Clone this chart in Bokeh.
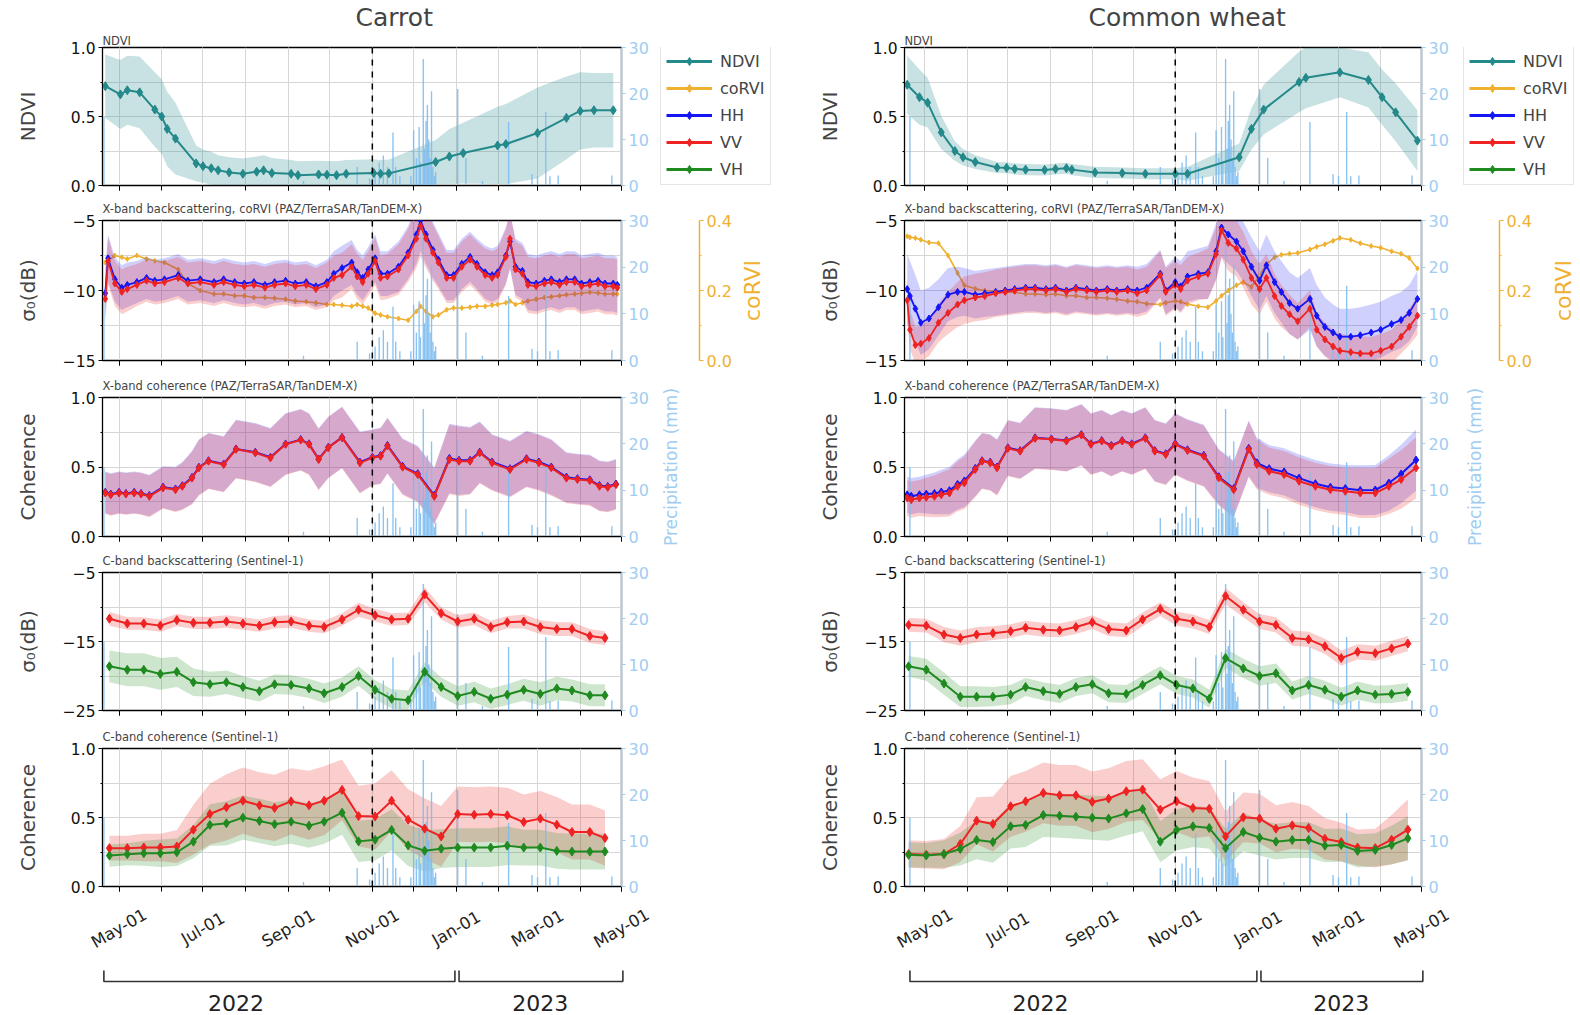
import math
import numpy as np
from bokeh.plotting import figure
from bokeh.models import (ColumnDataSource, Range1d, LinearAxis, FixedTicker, Span,
                          Legend, LegendItem, Title, CustomJSTickFormatter)
from bokeh.layouts import column, row
from bokeh.embed import file_html
from bokeh.resources import INLINE
from bokeh.core.properties import value

# ======================= DATA (day numbers = days since 2022-04-17) =======================
T0 = "2022-04-17"

precip_day = [3, 148, 187, 196, 200, 203, 206, 209, 213, 215, 218, 226, 228, 230, 232, 233, 235, 236,
              237, 238, 239, 240, 241, 242, 243, 244, 260, 266, 278, 297, 314, 318, 324, 327, 333, 372]
precip_mm = [15, 1, 4, 1.5, 3, 5, 6.5, 4, 11.5, 4, 2, 2, 12, 6, 12.7, 5, 27.5, 8,
             14, 17.5, 10, 6, 20.5, 4, 2, 3, 21, 6, 1, 13.8, 2.5, 2, 16, 2, 2.2, 2.2]

# ---- Carrot ----
carrot_ndvi_day = [4, 15, 20, 29, 40, 45, 49, 55, 70, 75, 81, 86, 94, 104, 114, 119, 125, 139, 144, 159,
                   165, 172, 179, 199, 204, 210, 244, 254, 264, 289, 295, 318, 339, 349, 359, 373]
carrot_ndvi = [0.72, 0.66, 0.69, 0.675, 0.55, 0.50, 0.41, 0.34, 0.16, 0.14, 0.125, 0.11, 0.095, 0.085,
               0.10, 0.11, 0.09, 0.085, 0.075, 0.08, 0.078, 0.075, 0.085, 0.09, 0.085, 0.088, 0.17, 0.21,
               0.235, 0.29, 0.30, 0.38, 0.49, 0.54, 0.545, 0.545]
carrot_ndvi_sd = [0.23, 0.25, 0.25, 0.26, 0.27, 0.27, 0.27, 0.26, 0.13, 0.12, 0.12, 0.11, 0.11, 0.11,
                  0.11, 0.11, 0.11, 0.10, 0.10, 0.10, 0.10, 0.10, 0.10, 0.10, 0.10, 0.10, 0.16, 0.20,
                  0.22, 0.28, 0.29, 0.33, 0.30, 0.28, 0.27, 0.27]

carrot_x_day = [4, 6, 11, 16, 20, 27, 34, 40, 47, 57, 64, 73, 83, 90, 98, 105, 112, 120, 127, 135,
                142, 150, 157, 165, 170, 176, 183, 187, 191, 195, 200, 204, 209, 217, 224, 230, 233,
                237, 242, 246, 252, 257, 263, 269, 274, 280, 285, 289, 295, 298, 302, 307, 311, 317,
                323, 328, 334, 339, 345, 350, 356, 362, 367, 373, 376]
carrot_x_vv = [-10.6, -7.9, -9.5, -10.1, -9.9, -9.6, -9.3, -9.5, -9.4, -9.1, -9.5, -9.4, -9.6, -9.4,
               -9.6, -9.7, -9.6, -9.8, -9.6, -9.5, -9.7, -9.6, -9.9, -9.6, -9.1, -8.9, -8.3, -9.0,
               -9.4, -8.8, -7.9, -9.1, -9.0, -8.5, -7.5, -6.3, -5.4, -6.3, -7.3, -8.0, -9.1, -9.1,
               -8.3, -7.8, -8.3, -8.9, -9.1, -8.9, -7.6, -6.3, -8.5, -8.8, -9.6, -9.7, -9.5, -9.4,
               -9.6, -9.4, -9.4, -9.7, -9.6, -9.5, -9.7, -9.7, -9.8]
carrot_x_hh = [-10.2, -7.7, -9.2, -9.8, -9.6, -9.4, -9.1, -9.3, -9.2, -8.9, -9.3, -9.2, -9.4, -9.2,
               -9.4, -9.5, -9.4, -9.6, -9.4, -9.3, -9.5, -9.4, -9.7, -9.4, -8.8, -8.4, -8.0, -8.7,
               -9.1, -8.5, -7.7, -8.8, -8.8, -8.3, -7.3, -6.0, -5.0, -6.0, -7.1, -7.8, -8.9, -8.9,
               -8.1, -7.6, -8.1, -8.7, -8.9, -8.7, -7.5, -6.5, -8.3, -8.6, -9.4, -9.5, -9.3, -9.2,
               -9.4, -9.2, -9.2, -9.5, -9.4, -9.3, -9.5, -9.5, -9.6]
carrot_x_sd = [1.7, 1.7, 1.6, 1.6, 1.6, 1.5, 1.5, 1.5, 1.5, 1.5, 1.5, 1.5, 1.5, 1.5, 1.5, 1.5, 1.5,
               1.5, 1.5, 1.5, 1.5, 1.5, 1.5, 1.6, 1.6, 1.6, 1.6, 1.6, 1.6, 1.6, 1.7, 1.6, 1.6, 1.8,
               1.9, 2.1, 2.2, 2.1, 2.0, 1.9, 1.8, 1.8, 1.8, 1.8, 1.8, 1.9, 1.9, 1.9, 2.0, 2.0, 2.0,
               2.0, 2.0, 2.0, 2.0, 2.0, 2.0, 2.0, 2.0, 2.0, 2.0, 2.0, 2.0, 2.0, 2.0]
carrot_corvi = [0.28, 0.285, 0.30, 0.295, 0.29, 0.30, 0.29, 0.285, 0.28, 0.26, 0.22, 0.20, 0.19, 0.19,
                0.185, 0.185, 0.18, 0.18, 0.178, 0.175, 0.17, 0.168, 0.165, 0.16, 0.16, 0.158, 0.155,
                0.16, 0.155, 0.15, 0.135, 0.13, 0.125, 0.12, 0.115, 0.14, 0.155, 0.14, 0.125, 0.13,
                0.145, 0.15, 0.15, 0.152, 0.155, 0.155, 0.158, 0.16, 0.165, 0.17, 0.16, 0.165, 0.17,
                0.175, 0.18, 0.182, 0.185, 0.188, 0.19, 0.192, 0.195, 0.193, 0.19, 0.19, 0.19]

carrot_xc_day = [4, 8, 14, 19, 25, 30, 36, 46, 55, 60, 67, 72, 79, 90, 99, 113, 124, 135, 146, 152,
                 159, 166, 176, 189, 198, 204, 209, 220, 231, 243, 254, 261, 269, 276, 285, 298, 310,
                 319, 328, 339, 347, 356, 363, 369, 375]
carrot_xc_vv = [0.313, 0.30, 0.313, 0.306, 0.313, 0.306, 0.289, 0.35, 0.337, 0.361, 0.42, 0.494,
                0.542, 0.518, 0.627, 0.602, 0.566, 0.663, 0.694, 0.663, 0.554, 0.639, 0.711, 0.53,
                0.566, 0.578, 0.651, 0.499, 0.446, 0.289, 0.554, 0.542, 0.542, 0.602, 0.53, 0.482,
                0.554, 0.53, 0.494, 0.42, 0.41, 0.402, 0.361, 0.354, 0.373]
carrot_xc_hh = [0.318, 0.305, 0.318, 0.31, 0.318, 0.31, 0.295, 0.355, 0.342, 0.366, 0.425, 0.498,
                0.545, 0.522, 0.63, 0.606, 0.57, 0.666, 0.697, 0.667, 0.558, 0.642, 0.713, 0.535,
                0.57, 0.582, 0.655, 0.505, 0.452, 0.296, 0.562, 0.548, 0.548, 0.607, 0.536, 0.488,
                0.56, 0.536, 0.5, 0.427, 0.416, 0.408, 0.367, 0.36, 0.378]
carrot_xc_sd = [0.15, 0.15, 0.15, 0.15, 0.15, 0.15, 0.15, 0.15, 0.16, 0.17, 0.19, 0.2, 0.2, 0.2,
                0.21, 0.21, 0.21, 0.22, 0.22, 0.22, 0.22, 0.22, 0.22, 0.22, 0.2, 0.2, 0.2, 0.2, 0.2,
                0.2, 0.25, 0.25, 0.24, 0.22, 0.2, 0.2, 0.2, 0.2, 0.2, 0.18, 0.18, 0.18, 0.18, 0.18, 0.18]

carrot_c_day = [7, 20, 32, 44, 56, 68, 80, 92, 104, 116, 127, 139, 152, 163, 176, 188, 200, 212,
                224, 236, 248, 260, 272, 284, 296, 308, 320, 332, 343, 356, 367]
carrot_c_vv = [-11.7, -12.4, -12.4, -12.7, -11.9, -12.3, -12.3, -12.1, -12.4, -12.7, -12.2, -12.1,
               -12.7, -12.9, -11.8, -10.4, -11.2, -11.8, -11.7, -8.2, -10.9, -12.1, -11.7, -12.9,
               -12.2, -12.1, -12.9, -13.2, -13.2, -14.2, -14.5]
carrot_c_vh = [-18.6, -19.1, -19.1, -19.7, -19.4, -20.9, -21.2, -20.9, -21.6, -22.2, -21.2, -21.3,
               -21.8, -22.5, -21.6, -20.0, -22.0, -23.3, -23.5, -19.4, -21.6, -22.9, -22.3, -23.3,
               -22.7, -22.0, -22.6, -21.8, -22.1, -22.8, -22.8]
carrot_c_vv_sd = [1.0, 0.9, 0.9, 0.9, 0.9, 0.9, 0.9, 0.9, 0.9, 0.9, 0.9, 0.9, 0.9, 0.9, 0.9, 1.0,
                  0.9, 0.9, 0.9, 1.1, 0.9, 0.9, 0.9, 0.9, 0.9, 1.0, 1.0, 1.0, 1.0, 1.0, 1.0]
carrot_c_vh_sd = [2.3, 2.4, 2.4, 2.3, 2.2, 2.0, 1.8, 1.7, 1.6, 1.5, 1.4, 1.4, 1.4, 1.4, 1.4, 1.4,
                  1.4, 1.4, 1.4, 1.4, 1.4, 1.4, 1.5, 1.5, 1.5, 1.6, 1.7, 1.7, 1.6, 1.6, 1.6]
carrot_cc_vv = [0.278, 0.278, 0.283, 0.283, 0.29, 0.412, 0.525, 0.574, 0.622, 0.588, 0.569, 0.617,
                0.588, 0.622, 0.70, 0.51, 0.508, 0.622, 0.484, 0.419, 0.363, 0.525, 0.52, 0.525,
                0.516, 0.467, 0.492, 0.448, 0.395, 0.395, 0.351]
carrot_cc_vh = [0.224, 0.234, 0.241, 0.241, 0.248, 0.325, 0.446, 0.458, 0.499, 0.475, 0.451, 0.47,
                0.441, 0.47, 0.535, 0.327, 0.339, 0.41, 0.298, 0.259, 0.274, 0.282, 0.282, 0.282,
                0.296, 0.282, 0.282, 0.258, 0.253, 0.253, 0.253]
carrot_cc_vv_sd = [0.09, 0.09, 0.1, 0.1, 0.12, 0.18, 0.22, 0.24, 0.24, 0.24, 0.24, 0.24, 0.25, 0.25,
                   0.22, 0.22, 0.24, 0.22, 0.22, 0.22, 0.22, 0.2, 0.2, 0.2, 0.2, 0.2, 0.2, 0.2, 0.2,
                   0.2, 0.2]
carrot_cc_vh_sd = [0.08, 0.08, 0.09, 0.1, 0.1, 0.12, 0.15, 0.16, 0.16, 0.16, 0.16, 0.16, 0.16, 0.16,
                   0.16, 0.15, 0.15, 0.15, 0.15, 0.15, 0.14, 0.14, 0.14, 0.14, 0.14, 0.13, 0.13, 0.13,
                   0.13, 0.13, 0.13]

# ---- Common wheat ----
wheat_ndvi_day = [1, 10, 16, 26, 36, 42, 51, 67, 74, 80, 88, 102, 110, 118, 122, 139, 159, 176, 198,
                  207, 245, 254, 263, 289, 294, 319, 340, 350, 360, 376]
wheat_ndvi = [0.73, 0.64, 0.60, 0.385, 0.25, 0.205, 0.17, 0.13, 0.128, 0.12, 0.115, 0.113, 0.12,
              0.125, 0.115, 0.095, 0.09, 0.085, 0.085, 0.085, 0.205, 0.41, 0.55, 0.75, 0.78, 0.82,
              0.765, 0.64, 0.53, 0.325]
wheat_ndvi_sd = [0.21, 0.2, 0.18, 0.12, 0.07, 0.06, 0.05, 0.04, 0.04, 0.04, 0.04, 0.04, 0.04, 0.04,
                 0.04, 0.04, 0.04, 0.04, 0.04, 0.05, 0.1, 0.15, 0.18, 0.22, 0.22, 0.18, 0.2, 0.2,
                 0.21, 0.22]

wheat_x_day = [1, 3, 7, 11, 17, 24, 31, 38, 43, 51, 58, 66, 73, 80, 88, 95, 103, 110, 118, 125, 133,
               140, 148, 155, 163, 170, 177, 187, 191, 198, 202, 207, 215, 222, 228, 232, 237, 243,
               248, 254, 260, 265, 271, 276, 282, 288, 297, 302, 308, 314, 319, 327, 334, 342, 349,
               357, 364, 370, 376]
wheat_x_vv = [-10.7, -12.8, -13.9, -13.8, -13.4, -12.3, -11.6, -11.0, -10.7, -10.5, -10.4, -10.2,
              -10.1, -10.0, -9.9, -9.9, -10.0, -9.9, -10.1, -9.9, -10.0, -10.1, -10.0, -10.1, -10.0,
              -10.2, -10.0, -8.9, -10.1, -9.6, -9.9, -9.3, -9.0, -8.8, -7.4, -5.7, -6.6, -7.0, -7.8,
              -9.1, -9.9, -9.1, -10.4, -11.1, -11.7, -12.2, -11.3, -12.8, -13.5, -14.0, -14.3,
              -14.4, -14.5, -14.5, -14.3, -14.0, -13.3, -12.6, -11.8]
wheat_x_hh = [-9.9, -10.4, -11.3, -12.3, -12.0, -11.2, -10.3, -10.1, -10.1, -10.3, -10.2, -10.1,
              -10.0, -9.9, -9.8, -9.8, -9.9, -9.8, -10.0, -9.8, -9.9, -10.0, -9.9, -10.0, -9.9,
              -10.0, -9.8, -8.8, -10.0, -9.4, -9.7, -9.0, -8.8, -8.7, -7.2, -5.5, -6.0, -6.5, -7.2,
              -8.3, -9.3, -8.2, -9.4, -10.1, -10.9, -11.3, -10.6, -11.8, -12.6, -13.0, -13.3,
              -13.3, -13.2, -13.0, -12.8, -12.4, -12.1, -11.6, -10.6]
wheat_x_hh_sd = [2.5, 2.5, 2.4, 2.3, 2.2, 2.0, 1.9, 1.8, 1.7, 1.7, 1.7, 1.7, 1.7, 1.7, 1.7, 1.7, 1.7,
                 1.7, 1.7, 1.7, 1.7, 1.7, 1.7, 1.7, 1.7, 1.7, 1.7, 1.7, 1.7, 1.8, 1.8, 1.8, 1.8, 1.9,
                 2.0, 2.1, 2.1, 2.1, 2.1, 2.1, 2.1, 2.2, 2.2, 2.2, 2.2, 2.2, 2.2, 2.2, 2.1, 2.0, 2.0,
                 2.0, 2.0, 2.0, 2.0, 2.0, 2.0, 2.0, 2.0]
wheat_x_vv_sd = [1.5, 1.4, 1.3, 1.3, 1.3, 1.4, 1.5, 1.6, 1.7, 1.7, 1.7, 1.7, 1.7, 1.7, 1.7, 1.7, 1.7,
                 1.7, 1.7, 1.7, 1.7, 1.7, 1.7, 1.7, 1.7, 1.7, 1.7, 1.7, 1.7, 1.7, 1.7, 1.7, 1.7, 1.8,
                 1.9, 2.0, 2.0, 2.0, 2.0, 1.9, 1.8, 1.7, 1.6, 1.5, 1.4, 1.3, 1.3, 1.2, 1.2, 1.2, 1.2,
                 1.2, 1.2, 1.2, 1.2, 1.2, 1.2, 1.3, 1.4]
wheat_corvi = [0.355, 0.352, 0.35, 0.345, 0.337, 0.335, 0.30, 0.25, 0.215, 0.205, 0.2, 0.198, 0.195,
               0.195, 0.19, 0.19, 0.188, 0.19, 0.185, 0.185, 0.18, 0.18, 0.178, 0.175, 0.17, 0.168,
               0.162, 0.16, 0.165, 0.17, 0.168, 0.161, 0.155, 0.152, 0.17, 0.185, 0.2, 0.215, 0.224,
               0.21, 0.244, 0.275, 0.295, 0.302, 0.305, 0.307, 0.317, 0.325, 0.332, 0.342, 0.35,
               0.345, 0.335, 0.327, 0.322, 0.312, 0.305, 0.293, 0.263]

wheat_xc_day = [1, 4, 10, 15, 21, 26, 32, 38, 43, 51, 56, 62, 67, 75, 84, 95, 107, 118, 129, 136, 144,
                151, 159, 166, 176, 183, 191, 198, 207, 219, 230, 241, 252, 258, 267, 278, 289, 301,
                312, 323, 334, 345, 355, 364, 375]
wheat_xc_vv = [0.277, 0.265, 0.277, 0.282, 0.289, 0.301, 0.313, 0.361, 0.386, 0.482, 0.542, 0.53,
               0.494, 0.634, 0.614, 0.706, 0.699, 0.687, 0.73, 0.663, 0.687, 0.651, 0.687, 0.663,
               0.706, 0.614, 0.59, 0.663, 0.619, 0.578, 0.422, 0.337, 0.627, 0.518, 0.47, 0.446,
               0.398, 0.361, 0.337, 0.325, 0.313, 0.313, 0.361, 0.41, 0.494]
wheat_xc_hh = [0.30, 0.29, 0.30, 0.305, 0.31, 0.32, 0.33, 0.375, 0.40, 0.49, 0.545, 0.535, 0.50,
               0.638, 0.618, 0.71, 0.702, 0.69, 0.733, 0.667, 0.69, 0.655, 0.69, 0.667, 0.71, 0.618,
               0.595, 0.667, 0.624, 0.584, 0.43, 0.345, 0.634, 0.53, 0.488, 0.465, 0.42, 0.38, 0.355,
               0.345, 0.332, 0.335, 0.385, 0.45, 0.55]
wheat_xc_sd = [0.13, 0.13, 0.13, 0.14, 0.15, 0.16, 0.17, 0.18, 0.19, 0.2, 0.2, 0.2, 0.2, 0.2, 0.2,
               0.22, 0.22, 0.22, 0.22, 0.22, 0.22, 0.22, 0.22, 0.22, 0.22, 0.22, 0.22, 0.22, 0.22,
               0.22, 0.2, 0.2, 0.2, 0.18, 0.17, 0.17, 0.17, 0.17, 0.17, 0.17, 0.18, 0.18, 0.2, 0.21, 0.22]

wheat_c_day = [2, 15, 28, 40, 52, 64, 77, 88, 101, 113, 125, 137, 149, 162, 174, 187, 199, 211, 223,
               235, 248, 260, 272, 284, 296, 308, 320, 332, 345, 357, 369]
wheat_c_vv = [-12.6, -12.7, -14.0, -14.5, -14.0, -13.8, -13.5, -13.0, -13.3, -13.4, -12.9, -12.2,
              -13.2, -13.4, -11.8, -10.3, -11.7, -12.1, -12.9, -8.4, -10.4, -12.1, -12.6, -14.5,
              -14.7, -15.7, -17.4, -16.5, -16.7, -16.0, -15.3]
wheat_c_vh = [-18.6, -19.1, -21.1, -23.0, -23.0, -23.0, -22.7, -21.6, -22.2, -22.6, -21.6, -21.2,
              -22.5, -22.6, -21.3, -19.9, -21.3, -21.8, -23.3, -17.4, -18.9, -20.0, -19.6, -22.1,
              -21.3, -22.0, -23.0, -22.1, -22.7, -22.6, -22.3]
wheat_c_vv_sd = [1.0, 1.0, 1.1, 1.1, 1.1, 1.0, 1.0, 1.0, 1.0, 1.0, 1.0, 1.0, 1.0, 1.0, 1.0, 1.0, 1.0,
                 1.0, 1.0, 1.2, 1.1, 1.1, 1.1, 1.1, 1.1, 1.1, 1.1, 1.1, 1.1, 1.1, 1.1]
wheat_c_vh_sd = [1.5, 1.6, 1.6, 1.5, 1.5, 1.4, 1.4, 1.3, 1.3, 1.3, 1.3, 1.3, 1.3, 1.3, 1.3, 1.3, 1.3,
                 1.3, 1.3, 1.4, 1.4, 1.4, 1.4, 1.3, 1.3, 1.3, 1.3, 1.3, 1.3, 1.3, 1.3]
wheat_cc_vv = [0.235, 0.23, 0.235, 0.308, 0.477, 0.453, 0.581, 0.617, 0.678, 0.661, 0.661, 0.613,
               0.637, 0.69, 0.702, 0.557, 0.617, 0.569, 0.564, 0.363, 0.501, 0.492, 0.419, 0.443,
               0.424, 0.346, 0.322, 0.283, 0.278, 0.339, 0.412]
wheat_cc_vh = [0.23, 0.225, 0.235, 0.272, 0.337, 0.322, 0.436, 0.446, 0.518, 0.513, 0.506, 0.499,
               0.492, 0.53, 0.561, 0.325, 0.41, 0.436, 0.424, 0.278, 0.395, 0.354, 0.325, 0.337,
               0.337, 0.296, 0.301, 0.258, 0.265, 0.301, 0.349]
wheat_cc_vv_sd = [0.1, 0.1, 0.11, 0.13, 0.17, 0.2, 0.22, 0.22, 0.22, 0.22, 0.22, 0.22, 0.22, 0.22,
                  0.22, 0.22, 0.22, 0.22, 0.2, 0.18, 0.18, 0.18, 0.17, 0.17, 0.16, 0.15, 0.14, 0.13,
                  0.14, 0.18, 0.22]
wheat_cc_vh_sd = [0.09, 0.09, 0.1, 0.12, 0.14, 0.15, 0.16, 0.16, 0.16, 0.16, 0.16, 0.16, 0.16, 0.16,
                  0.16, 0.15, 0.15, 0.15, 0.15, 0.14, 0.14, 0.13, 0.13, 0.13, 0.13, 0.12, 0.12, 0.12,
                  0.12, 0.14, 0.16]

# ---- axis / annotation texts ----
crop_names = ["Carrot", "Common wheat"]
subtitles = ["NDVI", "X-band backscattering, coRVI (PAZ/TerraSAR/TanDEM-X)",
             "X-band coherence (PAZ/TerraSAR/TanDEM-X)", "C-band backscattering (Sentinel-1)",
             "C-band coherence (Sentinel-1)"]
ylabels = ["NDVI", "σ₀(dB)", "Coherence", "σ₀(dB)", "Coherence"]
precip_label = "Precipitation (mm)"
corvi_label = "coRVI"
legend_labels = ["NDVI", "coRVI", "HH", "VV", "VH"]
month_tick_dates = ["2022-05-01", "2022-07-01", "2022-09-01", "2022-11-01", "2023-01-01",
                    "2023-03-01", "2023-05-01"]
month_tick_labels = ["May-01", "Jul-01", "Sep-01", "Nov-01", "Jan-01", "Mar-01", "May-01"]
month_minor_dates = ["2022-04-01", "2022-05-01", "2022-06-01", "2022-07-01", "2022-08-01",
                     "2022-09-01", "2022-10-01", "2022-11-01", "2022-12-01", "2023-01-01",
                     "2023-02-01", "2023-03-01", "2023-04-01", "2023-05-01"]
split_date = "2022-11-01"
year_names = ["2022", "2023"]
year_start = ["2022-04-20", "2023-01-03"]
year_end = ["2022-12-31", "2023-05-02"]
year_label_date = ["2022-07-25", "2023-03-03"]

# ======================= STYLE / LAYOUT =======================
FONT = "DejaVu Sans"
NDVI_C = "#24898a"
CORVI_C = "#f0b030"
HH_C = "#1515f5"
VV_C = "#ee2222"
VH_C = "#1f8a1f"
PRECIP_C = "#7dbdf0"
PRECIP_AX = "#9fcdf2"
GRID_C = "#d6d6d6"
LEGEND_COLORS = [NDVI_C, CORVI_C, HH_C, VV_C, VH_C]

FIG_W = 790
X1 = "2023-05-01"
COLS = [dict(left=102, fw=519, x0="2022-04-19", title_off=253, legend_x=4,
             corvi_b=29, precip_b=24),
        dict(left=114, fw=517, x0="2022-04-16", title_off=184, legend_x=7,
             corvi_b=40, precip_b=28)]
# (figure height, top border, bottom border)
ROWS = [(195, 47, 10), (175, 25, 10), (176, 27, 10), (174, 26, 10), (181, 28, 15)]
LAB_H = 114
R_PLAIN = 35      # right border of panels with only the precipitation axis
R_CORVI = 114     # right border of the panel that also carries the coRVI axis


def ms(s):
    return float(np.datetime64(s, "ms").astype("int64"))


def day_ms(days):
    d = np.datetime64(T0, "ms") + np.asarray(days, dtype="int64").astype("timedelta64[D]")
    return d.astype("datetime64[ms]").astype("int64").astype(float)


MAJOR_MS = [ms(s) for s in month_tick_dates]
MINOR_MS = [ms(s) for s in month_minor_dates]
XR = [Range1d(ms(c["x0"]), ms(X1)) for c in COLS]
precip_src = ColumnDataSource(dict(x=day_ms(precip_day), mm=precip_mm))
ZERO_ONE = {0: "0.0", 0.5: "0.5", 1: "1.0"}
NEG = {-5: "−5", -10: "−10", -15: "−15", -20: "−20", -25: "−25"}


def blank(fig):
    fig.outline_line_color = None
    fig.grid.visible = False
    fig.background_fill_color = "white"
    fig.border_fill_color = "white"


def base_fig(ci, ri, ylim, yticks, yminor, ystandoff, overrides, right_border):
    c = COLS[ci]
    h, top, bot = ROWS[ri]
    p = figure(width=c["left"] + c["fw"] + right_border, height=h, x_range=XR[ci],
               y_range=Range1d(*ylim), output_backend="svg", toolbar_location=None,
               min_border_left=c["left"], min_border_right=right_border,
               min_border_top=top, min_border_bottom=bot)
    p.title.text = subtitles[ri]
    p.title.text_font = FONT
    p.title.text_font_size = "11.5px"
    p.title.text_font_style = "normal"
    p.title.align = "left"
    p.title.standoff = 9
    p.outline_line_color = "black"
    p.outline_line_width = 1.3
    p.background_fill_color = "white"
    p.border_fill_color = "white"
    xa = p.xaxis[0]
    xa.ticker = FixedTicker(ticks=MAJOR_MS, minor_ticks=MINOR_MS)
    xa.formatter = CustomJSTickFormatter(code="return ''")
    xa.major_label_standoff = 0
    xa.major_tick_out = 5
    xa.major_tick_in = 0
    xa.minor_tick_out = 5
    xa.minor_tick_in = 0
    xa.axis_line_color = "black"
    ya = p.yaxis[0]
    ya.ticker = FixedTicker(ticks=yticks, minor_ticks=yminor)
    ya.major_label_overrides = overrides
    ya.major_label_text_font = FONT
    ya.major_label_text_font_size = "15.5px"
    ya.major_label_text_color = "#111111"
    ya.major_tick_out = 4
    ya.major_tick_in = 0
    ya.minor_tick_out = 2
    ya.minor_tick_in = 0
    ya.major_label_standoff = 3
    ya.axis_label = ylabels[ri]
    ya.axis_label_text_font = FONT
    ya.axis_label_text_font_size = "20px"
    ya.axis_label_text_font_style = "normal"
    ya.axis_label_standoff = ystandoff
    for g in (p.xgrid[0], p.ygrid[0]):
        g.grid_line_color = GRID_C
        g.minor_grid_line_color = GRID_C
    return p


def side_label(ri, width, border_left, text, size, color):
    """Narrow blank figure whose left-side title holds a rotated (bottom-to-top) axis caption."""
    h, top, bot = ROWS[ri]
    s = figure(width=width, height=h, output_backend="svg", toolbar_location=None,
               x_axis_location=None, y_axis_location=None, title=text, title_location="left",
               x_range=Range1d(0, 1), y_range=Range1d(0, 1),
               min_border_left=border_left, min_border_right=0,
               min_border_top=top, min_border_bottom=bot)
    s.title.align = "center"
    s.title.text_font = FONT
    s.title.text_font_size = size
    s.title.text_font_style = "normal"
    s.title.text_color = color
    s.title.standoff = 0
    blank(s)
    return s


def series(p, days, vals, color, size=8, lw=2.0, yr="default"):
    src = ColumnDataSource(dict(x=day_ms(days), y=list(vals)))
    l = p.line("x", "y", source=src, line_color=color, line_width=lw, y_range_name=yr)
    s = p.scatter("x", "y", source=src, marker="diamond", size=size, fill_color=color,
                  line_color=color, y_range_name=yr)
    return [l, s]


def legend_fig(ri, width, x_off):
    """Blank figure (same frame rows as the NDVI panel) carrying the legend."""
    h, top, bot = ROWS[ri]
    f = figure(width=width, height=h, output_backend="svg", toolbar_location=None,
               x_axis_location=None, y_axis_location=None, title="", title_location="left",
               x_range=Range1d(0, 1), y_range=Range1d(0, 1),
               min_border_left=0, min_border_right=0, min_border_top=top, min_border_bottom=bot)
    blank(f)
    items = []
    for lab, col in zip(legend_labels, LEGEND_COLORS):
        src = ColumnDataSource(dict(x=[np.nan], y=[np.nan]))   # legend proxy, nothing drawn
        l = f.line("x", "y", source=src, line_color=col, line_width=3)
        s = f.scatter("x", "y", source=src, marker="diamond", size=10, fill_color=col, line_color=col)
        items.append(LegendItem(label=lab, renderers=[l, s]))
    leg = Legend(items=items, location=(x_off, 0), glyph_width=46, glyph_height=20,
                 label_height=20, label_standoff=8, padding=5, spacing=7, margin=0,
                 label_text_font=FONT, label_text_font_size="16px",
                 border_line_color="#cccccc", background_fill_alpha=0.9)
    f.add_layout(leg)
    return f


def precip_axis(p, spacer=None):
    ax = LinearAxis(y_range_name="precip", ticker=FixedTicker(ticks=[0, 10, 20, 30]))
    ax.axis_line_color = PRECIP_AX
    ax.axis_line_width = 1.3
    ax.major_tick_line_color = PRECIP_AX
    ax.minor_tick_line_color = None
    ax.major_tick_out = 4
    ax.major_tick_in = 0
    ax.major_label_standoff = 3
    ax.major_label_text_color = PRECIP_AX
    ax.major_label_text_font = FONT
    ax.major_label_text_font_size = "16px"
    if spacer is not None:
        ax.axis_label = " "
        ax.axis_label_text_font_size = "20px"
        ax.axis_label_standoff = spacer
    p.add_layout(ax, "right")


def add_bars(p):
    p.vbar(x="x", top="mm", bottom=0, width=86400000 * 1.0, source=precip_src,
           y_range_name="precip", fill_color=PRECIP_C, line_color=None, fill_alpha=0.9)


def band(p, days, mean, sd, color, alpha=0.25):
    m = np.asarray(mean, dtype=float)
    s = np.asarray(sd, dtype=float)
    p.varea(x=day_ms(days), y1=m - s, y2=m + s, fill_color=color, fill_alpha=alpha)


def split_line(p):
    p.add_layout(Span(location=ms(split_date), dimension="height", line_color="black",
                      line_dash="dashed", line_width=1.5))


DATA = [
    dict(ndvi=(carrot_ndvi_day, carrot_ndvi, carrot_ndvi_sd),
         x=(carrot_x_day, carrot_x_hh, carrot_x_vv, carrot_x_sd, carrot_x_sd, carrot_corvi),
         xc=(carrot_xc_day, carrot_xc_hh, carrot_xc_vv, carrot_xc_sd, carrot_xc_sd),
         c=(carrot_c_day, carrot_c_vv, carrot_c_vh, carrot_c_vv_sd, carrot_c_vh_sd),
         cc=(carrot_c_day, carrot_cc_vv, carrot_cc_vh, carrot_cc_vv_sd, carrot_cc_vh_sd)),
    dict(ndvi=(wheat_ndvi_day, wheat_ndvi, wheat_ndvi_sd),
         x=(wheat_x_day, wheat_x_hh, wheat_x_vv, wheat_x_hh_sd, wheat_x_vv_sd, wheat_corvi),
         xc=(wheat_xc_day, wheat_xc_hh, wheat_xc_vv, wheat_xc_sd, wheat_xc_sd),
         c=(wheat_c_day, wheat_c_vv, wheat_c_vh, wheat_c_vv_sd, wheat_c_vh_sd),
         cc=(wheat_c_day, wheat_cc_vv, wheat_cc_vh, wheat_cc_vv_sd, wheat_cc_vh_sd)),
]


def build_column(ci):
    c = COLS[ci]
    D = DATA[ci]
    rows_out = []
    w_plain = c["left"] + c["fw"] + R_PLAIN
    w_corvi = c["left"] + c["fw"] + R_CORVI

    # ---- row 1: NDVI ----
    p = base_fig(ci, 0, (0, 1), [0, 0.5, 1], [0.25, 0.75], 28, ZERO_ONE, R_PLAIN)
    p.title.text = crop_names[ci]
    p.title.text_font_size = "25px"
    p.title.offset = c["title_off"]
    p.title.standoff = 0
    p.add_layout(Title(text=subtitles[0], align="left", text_font=FONT, text_font_size="11.5px",
                       text_font_style="normal", standoff=0), "above")
    p.extra_y_ranges = {"precip": Range1d(0, 30)}
    precip_axis(p)
    d, m, s = D["ndvi"]
    band(p, d, m, s, NDVI_C, 0.25)
    add_bars(p)
    series(p, d, m, NDVI_C, size=9)
    split_line(p)
    rows_out.append([p, legend_fig(0, FIG_W - w_plain, c["legend_x"])])

    # ---- row 2: X-band backscatter + coRVI ----
    p = base_fig(ci, 1, (-15, -5), [-15, -10, -5], [-12.5, -7.5], 20, NEG, R_CORVI)
    p.extra_y_ranges = {"precip": Range1d(0, 30), "corvi": Range1d(0, 0.4)}
    precip_axis(p, spacer=23)
    cax = LinearAxis(y_range_name="corvi",
                     ticker=FixedTicker(ticks=[0, 0.2, 0.4], minor_ticks=[0.1, 0.3]))
    cax.major_label_overrides = {0: "0.0"}
    cax.axis_line_color = CORVI_C
    cax.axis_line_width = 1.5
    cax.major_tick_line_color = CORVI_C
    cax.minor_tick_line_color = CORVI_C
    cax.major_tick_out = 4
    cax.major_tick_in = 0
    cax.minor_tick_out = 2
    cax.minor_tick_in = 0
    cax.major_label_standoff = 3
    cax.major_label_text_color = CORVI_C
    cax.major_label_text_font = FONT
    cax.major_label_text_font_size = "16px"
    p.add_layout(cax, "right")
    d, hh, vv, hsd, vsd, cor = D["x"]
    series(p, d, cor, CORVI_C, size=5, lw=1.6, yr="corvi")
    band(p, d, hh, hsd, HH_C, 0.2)
    band(p, d, vv, vsd, VV_C, 0.22)
    add_bars(p)
    series(p, d, hh, HH_C, size=7, lw=1.8)
    series(p, d, vv, VV_C, size=7, lw=1.8)
    split_line(p)
    rows_out.append([p, side_label(1, FIG_W - w_corvi, c["corvi_b"], corvi_label, "22px", CORVI_C)])

    # ---- row 3: X-band coherence ----
    p = base_fig(ci, 2, (0, 1), [0, 0.5, 1], [0.25, 0.75], 28, ZERO_ONE, R_PLAIN)
    p.extra_y_ranges = {"precip": Range1d(0, 30)}
    precip_axis(p)
    d, hh, vv, hsd, vsd = D["xc"]
    band(p, d, hh, hsd, HH_C, 0.2)
    band(p, d, vv, vsd, VV_C, 0.22)
    add_bars(p)
    series(p, d, hh, HH_C, size=8)
    series(p, d, vv, VV_C, size=8)
    split_line(p)
    rows_out.append([p, side_label(2, FIG_W - w_plain, c["precip_b"], precip_label, "17px", PRECIP_AX)])

    # ---- row 4: C-band backscatter ----
    p = base_fig(ci, 3, (-25, -5), [-25, -15, -5], [-20, -10], 20, NEG,
                 FIG_W - c["left"] - c["fw"])
    p.extra_y_ranges = {"precip": Range1d(0, 30)}
    precip_axis(p)
    d, vv, vh, vsd, hsd = D["c"]
    band(p, d, vv, vsd, VV_C, 0.22)
    band(p, d, vh, hsd, VH_C, 0.22)
    add_bars(p)
    series(p, d, vv, VV_C, size=9)
    series(p, d, vh, VH_C, size=9)
    split_line(p)
    rows_out.append([p])

    # ---- row 5: C-band coherence ----
    p = base_fig(ci, 4, (0, 1), [0, 0.5, 1], [0.25, 0.75], 28, ZERO_ONE,
                 FIG_W - c["left"] - c["fw"])
    p.extra_y_ranges = {"precip": Range1d(0, 30)}
    precip_axis(p)
    d, vv, vh, vsd, hsd = D["cc"]
    band(p, d, vv, vsd, VV_C, 0.22)
    band(p, d, vh, hsd, VH_C, 0.22)
    add_bars(p)
    series(p, d, vv, VV_C, size=9)
    series(p, d, vh, VH_C, size=9)
    split_line(p)
    rows_out.append([p])

    # ---- date labels + year brackets ----
    lb, rb = 30, 20
    fw = FIG_W - lb - rb
    x0 = ms(c["x0"])
    mpp = (ms(X1) - x0) / c["fw"]
    start = x0 - (c["left"] - lb) * mpp
    q = figure(width=FIG_W, height=LAB_H, x_range=Range1d(start, start + fw * mpp),
               y_range=Range1d(0, LAB_H), output_backend="svg", toolbar_location=None,
               x_axis_location=None, y_axis_location=None,
               min_border_left=lb, min_border_right=rb, min_border_top=0, min_border_bottom=0)
    blank(q)
    q.text(x=MAJOR_MS, y=[LAB_H - 27] * len(MAJOR_MS), text=month_tick_labels, angle=math.pi / 6,
           text_align="center", text_baseline="middle", text_font=value(FONT),
           text_font_size="16.5px", text_color="#222222")
    xs, ys = [], []
    for s0, s1 in zip(year_start, year_end):
        xs.append([ms(s0), ms(s0), ms(s1), ms(s1)])
        ys.append([LAB_H - 69, LAB_H - 80, LAB_H - 80, LAB_H - 69])
    q.multi_line(xs=xs, ys=ys, line_color="#333333", line_width=1.6)
    q.text(x=[ms(s) for s in year_label_date], y=[LAB_H - 101] * 2, text=year_names,
           text_align="center", text_baseline="middle", text_font=value(FONT),
           text_font_size="22px", text_color="#222222")
    rows_out.append([q])
    return rows_out


left = build_column(0)
right = build_column(1)
layout = column(*[row(*(a + b)) for a, b in zip(left, right)])

open("out.html", "w").write(file_html(layout, INLINE))
